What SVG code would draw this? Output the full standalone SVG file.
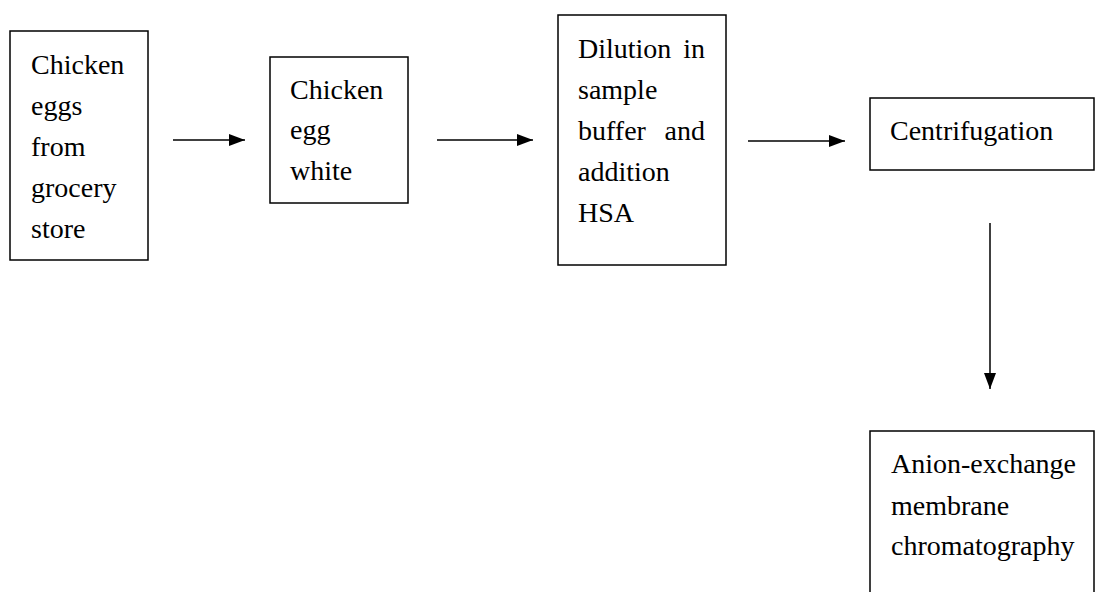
<svg xmlns="http://www.w3.org/2000/svg" width="1096" height="592" viewBox="0 0 1096 592">
<defs>
<style>
.box{fill:#fff;stroke:#000;stroke-width:1.5}
.t{font-family:"Liberation Serif","Times New Roman",serif;font-size:28px;fill:#000}
.c{stroke:#000;stroke-width:1.5;fill:none}
</style>
<marker id="ah" markerUnits="userSpaceOnUse" markerWidth="16" markerHeight="12" refX="16" refY="6" orient="auto">
<path d="M0,0 L16,6 L0,12 Z" fill="#000"/>
</marker>
</defs>
<rect width="1096" height="592" fill="#fff"/>
<g id="connectors">
<line class="c" x1="173" y1="140" x2="245" y2="140" marker-end="url(#ah)"/>
<line class="c" x1="437" y1="140" x2="533" y2="140" marker-end="url(#ah)"/>
<line class="c" x1="748" y1="141" x2="845" y2="141" marker-end="url(#ah)"/>
<line class="c" x1="990" y1="223" x2="990" y2="389" marker-end="url(#ah)"/>
</g>
<g id="node1">
<rect class="box" x="10" y="31" width="138" height="229"/>
<text class="t" x="31" y="74">Chicken</text>
<text class="t" x="31" y="115">eggs</text>
<text class="t" x="31" y="156">from</text>
<text class="t" x="31" y="197">grocery</text>
<text class="t" x="31" y="238">store</text>
</g>
<g id="node2">
<rect class="box" x="270" y="57" width="138" height="146"/>
<text class="t" x="290" y="99">Chicken</text>
<text class="t" x="290" y="139">egg</text>
<text class="t" x="290" y="180">white</text>
</g>
<g id="node3">
<rect class="box" x="558" y="15" width="168" height="250"/>
<text class="t" x="578" y="58">Dilution</text>
<text class="t" x="705" y="58" text-anchor="end">in</text>
<text class="t" x="578" y="99">sample</text>
<text class="t" x="578" y="140">buffer</text>
<text class="t" x="705" y="140" text-anchor="end">and</text>
<text class="t" x="578" y="181">addition</text>
<text class="t" x="578" y="222">HSA</text>
</g>
<g id="node4">
<rect class="box" x="870" y="98" width="224" height="72"/>
<text class="t" x="890" y="140">Centrifugation</text>
</g>
<g id="node5">
<rect class="box" x="870" y="431" width="224" height="180"/>
<text class="t" x="891" y="473">Anion-exchange</text>
<text class="t" x="891" y="515">membrane</text>
<text class="t" x="891" y="555">chromatography</text>
</g>
</svg>
